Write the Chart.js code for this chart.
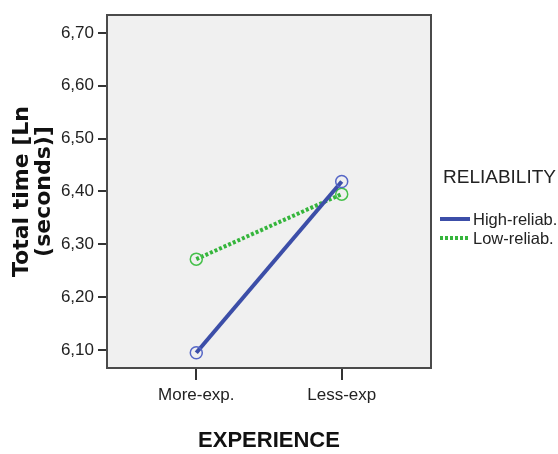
<!DOCTYPE html>
<html>
<head>
<meta charset="utf-8">
<script src="https://cdn.jsdelivr.net/npm/chart.js@4/dist/chart.umd.min.js"></script>
<style>
  html, body { margin: 0; padding: 0; background: #ffffff; }
  #wrap { width: 558px; height: 454px; }
</style>
</head>
<body>
<div id="wrap"><canvas id="c" width="558" height="454"></canvas></div>
<script>
// ---- data ----
const categories = ['More-exp.', 'Less-exp'];
const seriesNames = ['High-reliab.', 'Low-reliab.'];
const highReliab = [6.095, 6.419];
const lowReliab = [6.272, 6.395];
const yTickValues = [6.10, 6.20, 6.30, 6.40, 6.50, 6.60, 6.70];
const yTitle = ['Total time [Ln', '(seconds)]'];
const xTitle = 'EXPERIENCE';
const legendTitle = 'RELIABILITY';

const SANS = "'Liberation Sans', Arial, sans-serif";

const blue = '#3c4ea8';
const green = '#35b53c';

function toPoints(vals) { return categories.map((c, i) => ({ x: i, y: vals[i] })); }

const framePlugin = {
  id: 'frame',
  beforeDatasetsDraw(chart) {
    const a = chart.chartArea, ctx = chart.ctx;
    ctx.save();
    ctx.fillStyle = '#f0f0f0';
    ctx.fillRect(a.left, a.top, a.right - a.left, a.bottom - a.top);
    ctx.strokeStyle = '#4a4a4a';
    ctx.lineWidth = 2;
    ctx.strokeRect(a.left, a.top, a.right - a.left, a.bottom - a.top);
    ctx.restore();
  }
};

const legendPlugin = {
  id: 'customLegend',
  afterDraw(chart) {
    const ctx = chart.ctx;
    ctx.save();
    ctx.fillStyle = '#222';
    ctx.textBaseline = 'middle';
    ctx.textAlign = 'left';
    ctx.font = '19px ' + SANS;
    ctx.fillText(legendTitle, 443, 178);
    ctx.font = '16.5px ' + SANS;
    const rows = [219, 238];
    chart.data.datasets.forEach((ds, i) => {
      const y = rows[i];
      ctx.beginPath();
      ctx.strokeStyle = ds.borderColor;
      ctx.lineWidth = ds.borderWidth;
      ctx.setLineDash(ds.borderDash || []);
      ctx.moveTo(440, y);
      ctx.lineTo(470, y);
      ctx.stroke();
      ctx.setLineDash([]);
      ctx.fillStyle = '#222';
      ctx.fillText(ds.label, 473, y + 1);
    });
    ctx.restore();
  }
};

new Chart(document.getElementById('c'), {
  type: 'line',
  data: {
    datasets: [
      {
        label: seriesNames[0],
        data: toPoints(highReliab),
        borderColor: blue,
        borderWidth: 4,
        pointRadius: 6,
        pointBorderWidth: 1.5,
        pointBorderColor: '#5566c6',
        pointBackgroundColor: 'rgba(0,0,0,0)',
        tension: 0
      },
      {
        label: seriesNames[1],
        data: toPoints(lowReliab),
        borderColor: green,
        borderWidth: 4,
        borderDash: [3, 2],
        borderCapStyle: 'butt',
        pointRadius: 6,
        pointBorderWidth: 1.5,
        pointBorderColor: '#45c04a',
        pointBackgroundColor: 'rgba(0,0,0,0)',
        tension: 0
      }
    ]
  },
  options: {
    responsive: false,
    animation: false,
    devicePixelRatio: 1,
    layout: { padding: { top: 15, right: 127, left: 0, bottom: 0 } },
    plugins: { legend: { display: false }, tooltip: { enabled: false } },
    scales: {
      x: {
        type: 'linear',
        min: -0.614,
        max: 1.614,
        afterBuildTicks(scale) { scale.ticks = categories.map((c, i) => ({ value: i })); },
        afterFit(scale) { scale.height = 86; },
        border: { display: false },
        grid: { display: true, drawOnChartArea: false, drawTicks: true, tickLength: 12, color: '#333', lineWidth: 2 },
        ticks: {
          padding: 5,
          color: '#222',
          font: { family: SANS, size: 17 },
          maxRotation: 0,
          callback: (v) => categories[v]
        },
        title: {
          display: true,
          text: xTitle,
          color: '#111',
          font: { family: SANS, size: 22, weight: 'bold', lineHeight: 1 },
          padding: { top: 0, bottom: 2 }
        }
      },
      y: {
        min: 6.066,
        max: 6.734,
        afterBuildTicks(scale) { scale.ticks = yTickValues.map(v => ({ value: v })); },
        afterFit(scale) { scale.width = 107; },
        border: { display: false },
        grid: { display: true, drawOnChartArea: false, drawTicks: true, tickLength: 9, color: '#333', lineWidth: 2 },
        ticks: {
          padding: 4,
          color: '#222',
          font: { family: SANS, size: 17 },
          callback: (v) => v.toFixed(2).replace('.', ',')
        },
        title: {
          display: true,
          text: yTitle,
          color: '#111',
          font: { family: "'DejaVu Sans', Verdana, sans-serif", size: 22, weight: 'bold', lineHeight: '22px' },
          padding: { top: 11, bottom: 0 }
        }
      }
    }
  },
  plugins: [framePlugin, legendPlugin]
});
</script>
</body>
</html>
